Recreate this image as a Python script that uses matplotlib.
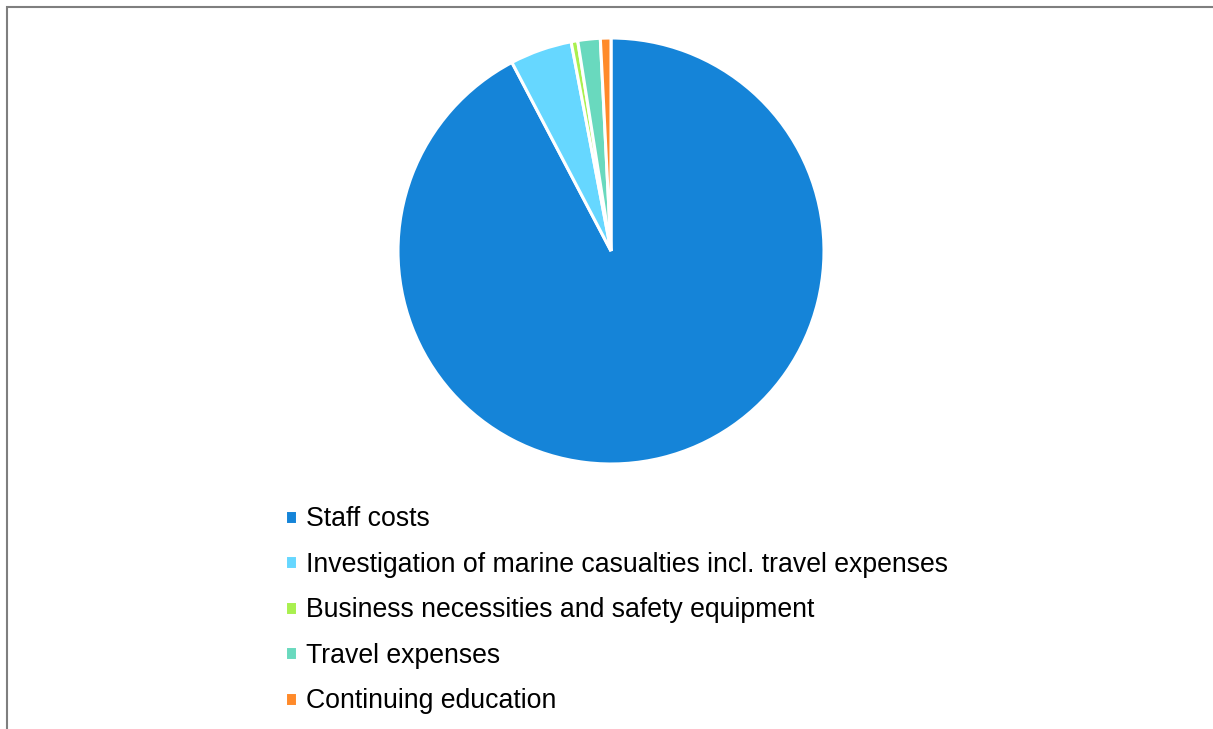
import matplotlib.pyplot as plt
from matplotlib.patches import Rectangle

plt.rcParams['font.family'] = ['Liberation Sans', 'DejaVu Sans']

labels = ['Staff costs',
          'Investigation of marine casualties incl. travel expenses',
          'Business necessities and safety equipment',
          'Travel expenses',
          'Continuing education']
shares = [92.3, 4.7, 0.5, 1.7, 0.8]
colors = ['#1584D8', '#66D7FF', '#A9F04F', '#69D9BE', '#FF8A2A']

W, H = 1213, 729
fig = plt.figure(figsize=(W / 100, H / 100), dpi=100)

# outer frame, open at right and bottom
fig.patches.append(Rectangle((6.5 / W, -0.1), 1.2, (H - 6.5) / H + 0.1,
                             transform=fig.transFigure, fill=False,
                             edgecolor='#7f7f7f', linewidth=1.5))

cx, cy, r = 611, 251, 213
ax = fig.add_axes([(cx - r) / W, (H - cy - r) / H, 2 * r / W, 2 * r / H])
wedges, _ = ax.pie(shares, colors=colors, startangle=90, counterclock=False,
                   wedgeprops=dict(edgecolor='white', linewidth=2.2))
ax.set_xlim(-1, 1)
ax.set_ylim(-1, 1)
ax.set_aspect('equal')
ax.axis('off')

fig.legend(wedges, labels, loc='upper left',
           bbox_to_anchor=(272 / W, 1 - 493 / H),
           frameon=False, fontsize=19.2, handlelength=0.45, handleheight=0.45,
           handletextpad=0.33, labelspacing=0.73, borderpad=0)

fig.savefig('out.png', dpi=100)
